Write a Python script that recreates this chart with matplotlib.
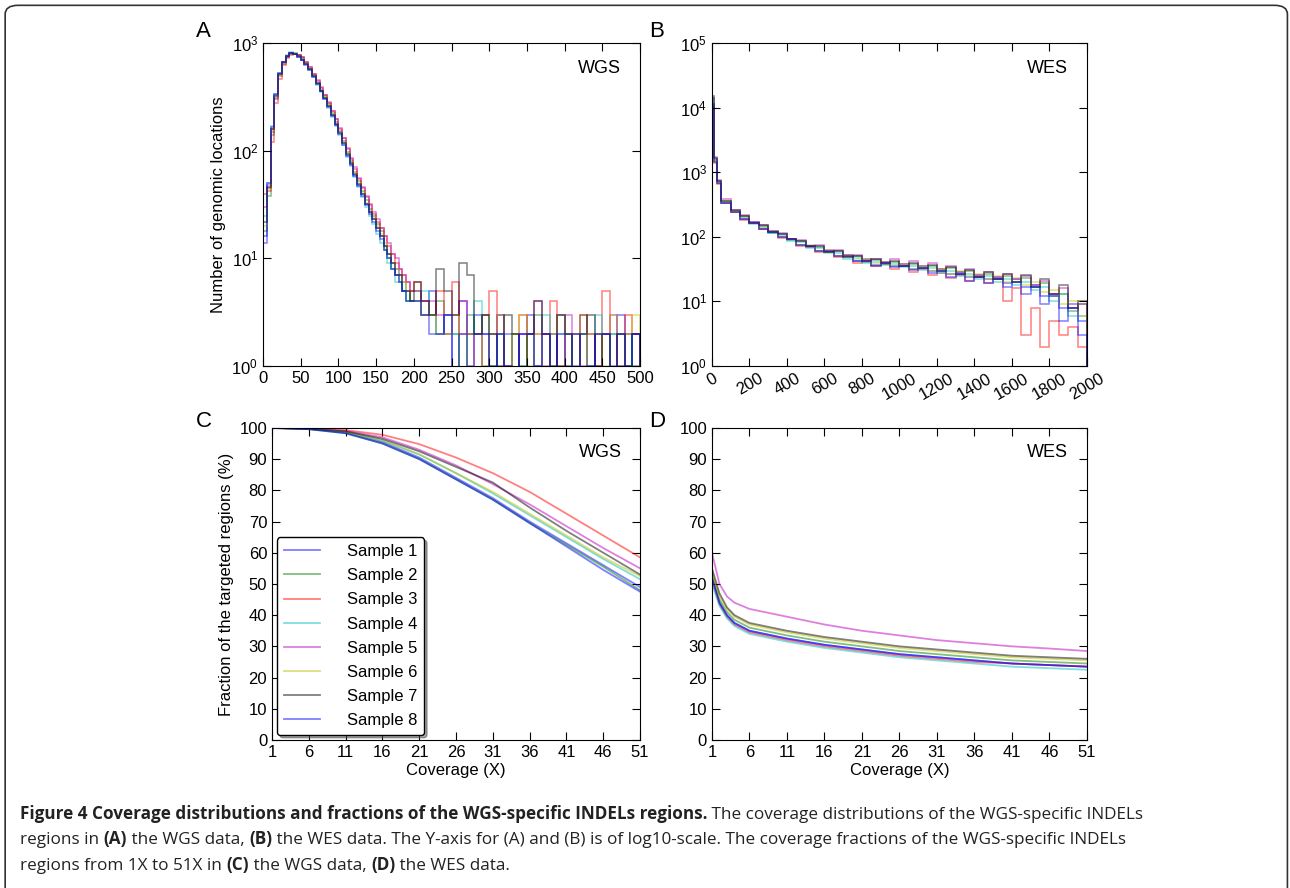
import numpy as np
import matplotlib
matplotlib.use("Agg")
import matplotlib.pyplot as plt
from matplotlib.patches import FancyBboxPatch

plt.rcParams['font.family'] = ['Liberation Sans', 'DejaVu Sans']
plt.rcParams['font.size'] = 12

samples = ["Sample %d" % i for i in range(1, 9)]
colors = ['b', 'g', 'r', 'c', 'm', 'y', 'k', 'b']

# A: WGS coverage histogram (bins of 5 up to 200, then bins of 10 up to 500)
edges_a = list(range(0, 200, 5)) + list(range(200, 501, 10))
a_body = [
    [14,45,160,330,520,660,760,810,790,750,700,640,570,490,420,360,310,260,215,175,148,118,92,76,60,48,40,32,27,23,19,16,13,11,9,8,7,5,5,4],
    [18,38,140,300,490,640,750,800,810,770,720,650,580,500,430,370,320,270,225,185,152,122,97,80,64,52,42,35,29,25,21,18,12,10,8,7,6,6,4,5],
    [40,42,120,280,460,620,730,780,790,780,740,670,600,520,450,390,330,280,235,195,160,130,104,84,68,55,45,37,31,26,22,19,16,13,11,9,8,7,6,5],
    [25,50,170,340,530,670,770,820,800,760,710,640,560,480,410,350,300,250,205,168,140,112,88,72,57,46,37,30,25,21,17,14,12,9,8,6,6,5,4,4],
    [30,48,150,310,500,650,740,790,800,780,735,665,595,515,445,385,330,282,235,195,162,132,106,86,70,56,46,38,32,27,23,19,16,14,11,10,8,7,6,5],
    [20,44,155,320,510,655,755,800,795,755,705,645,575,495,425,365,315,265,218,178,150,120,95,78,62,50,41,33,28,24,20,17,14,11,9,8,7,6,5,4],
    [22,46,158,325,515,660,760,805,790,752,700,640,570,492,422,362,312,262,216,176,146,118,93,77,61,49,40,32,27,23,19,16,13,11,9,7,7,5,5,4],
    [16,50,165,335,525,665,765,810,785,748,695,632,562,485,415,355,305,255,210,172,143,114,90,74,58,47,38,31,26,22,18,15,12,10,8,7,6,5,4,4],
]
a_tail = [
    [4,3,5,2,3,0,4,2,3,2,1,3,2,0,2,3,1,2,0,3,2,1,2,0,2,2,1,3,0,2],
    [5,3,3,4,2,2,0,3,2,3,1,2,0,2,1,2,3,0,2,1,0,2,3,1,2,0,2,1,2,1],
    [6,4,3,5,3,6,2,2,0,3,5,2,1,2,3,0,2,2,4,1,2,0,3,2,1,5,0,2,3,2],
    [4,5,3,2,3,2,0,2,4,1,2,2,0,2,1,2,0,3,1,2,2,0,2,1,3,0,2,2,1,2],
    [5,4,4,3,2,3,4,2,2,0,2,3,1,0,2,2,4,1,2,0,3,2,1,2,0,2,3,1,2,2],
    [4,3,3,2,2,3,0,2,2,1,2,3,0,2,3,1,2,0,2,3,1,2,0,2,2,1,3,0,2,3],
    [6,4,3,8,5,3,9,7,2,3,2,1,3,2,0,2,4,2,1,3,2,0,2,3,1,2,0,2,1,2],
    [4,3,2,2,3,0,2,1,2,2,0,2,1,0,2,2,1,2,0,2,1,2,0,1,2,2,0,2,1,2],
]

# B: WES coverage histogram
edges_b = [0, 10, 25, 50] + list(range(100, 2001, 50))
b_head = [
    [14000,1600,720,340], [11000,1500,690,360], [9000,1400,650,330], [12000,1550,700,345],
    [10000,1700,760,380], [13000,1500,700,350], [15000,1650,740,365], [11500,1450,680,335],
]
b_body = [
    [245,190,168,132,122,98,94,74,73,60,61,50,52,43,45,37,41,35,38,32,35,30,32,27,29,24,26,22,24,19,22,17,18,12,13,8,9,5],
    [255,210,162,148,116,112,88,86,70,70,58,60,48,50,41,44,38,41,36,38,33,36,30,33,27,30,24,27,22,25,20,23,17,19,12,13,7,9],
    [240,185,163,130,120,95,92,72,70,58,58,48,50,40,42,35,38,32,35,29,32,26,28,23,26,21,24,19,22,10,16,3,8,2,5,3,4,2],
    [250,200,160,142,115,107,87,82,68,67,56,57,46,47,40,41,37,38,34,35,31,33,28,30,25,27,22,25,20,22,18,20,15,17,10,13,6,6],
    [265,215,170,155,122,116,94,90,73,74,62,63,52,53,44,46,41,45,38,42,36,39,32,36,29,32,26,29,24,27,22,25,18,21,13,16,8,9],
    [248,195,165,135,121,100,94,76,74,61,62,51,53,44,45,38,41,35,38,32,35,30,32,27,30,25,27,22,25,20,23,18,20,14,15,9,10,6],
    [258,210,166,150,120,112,91,86,72,71,59,60,49,51,42,45,39,43,36,40,33,37,30,34,27,31,24,29,22,27,20,26,17,22,13,18,8,10],
    [242,190,163,132,119,98,92,74,72,60,60,50,51,42,43,36,39,34,36,31,33,28,30,24,27,21,24,19,22,17,20,13,17,9,12,5,8,3],
]

# C: WGS coverage fraction
cov_c = [1, 6, 11, 16, 21, 26, 31, 36, 41, 46, 51]
frac_c = [
    [100,99.7,98.5,95.5,90.5,84,77.5,70,63,56,49],
    [100,99.6,98.3,95,90,83.5,77,69.5,62.5,55.5,48],
    [100,99.9,99.3,97.8,94.8,90.5,85.5,79.5,72.5,65.5,58.5],
    [100,99.7,98.7,96,91.5,85.5,79,72,65,58,51.5],
    [100,99.8,99,97,93,88,82,75.5,68.5,61.5,55],
    [100,99.7,98.7,96,91.5,85.5,79.5,72.5,65.5,58.5,52.5],
    [100,99.7,98.9,96.5,92.5,87.5,82.5,74.5,67,60,53],
    [100,99.6,98.3,95,90,83.5,77,69.5,62,54.5,47.5],
]

# D: WES coverage fraction
cov_d = [1, 2, 3, 4, 6, 11, 16, 21, 26, 31, 36, 41, 46, 51]
frac_d = [
    [52,44,40,37.5,35,32.5,30.5,29,27.5,26.5,25.5,24.5,24,23.5],
    [53,45,41,38.5,36,33.5,31.5,30,28.5,27.5,26.5,25.5,25,24.5],
    [51,43.5,39.5,37,34.5,32,30,28.5,27,26,25,24.5,24,23.5],
    [50,43,39,36.5,34,31.5,29.5,28,26.5,25.5,24.5,23.5,23,22.5],
    [60,50,46,44,42,39.5,37,35,33.5,32,31,30,29.3,28.5],
    [54,46,42,39.5,37,34.5,32.5,31,29.5,28.5,27.5,26.5,26,25.5],
    [55,47,42.5,40,37.5,35,33,31.5,30,29,28,27,26.5,26],
    [52,44,40,37.5,35,32.5,30.5,29,27.5,26.5,25.5,24.5,24,23.5],
]

fig = plt.figure(figsize=(12.9, 8.88), dpi=100)
fig.patches.append(FancyBboxPatch((0.004, -0.05), 0.994, 1.044, boxstyle="round,pad=0,rounding_size=0.01",
                                  transform=fig.transFigure, fill=False, lw=1.2, ec='#333333'))


def style(ax):
    ax.tick_params(direction='in', top=True, right=True, length=6, labelsize=12)
    ax.tick_params(which='minor', direction='in', top=True, right=True, length=0)


ax_a = fig.add_axes([0.2039, 0.5878, 0.2922, 0.3637])
for i in range(8):
    vals = np.array(a_body[i] + a_tail[i], dtype=float)
    vals = np.where(vals > 0, vals, 0.1)
    ax_a.stairs(vals, edges_a, color=colors[i], alpha=0.5, lw=1.1)
ax_a.set_yscale('log')
ax_a.set_xlim(0, 500)
ax_a.set_ylim(1, 1000)
ax_a.set_xticks(range(0, 501, 50))
ax_a.set_ylabel("Number of genomic locations", fontsize=12)
ax_a.text(0.95, 0.92, "WGS", transform=ax_a.transAxes, ha='right', va='center', fontsize=13)
style(ax_a)

ax_b = fig.add_axes([0.5519, 0.5878, 0.2907, 0.3637])
for i in range(8):
    vals = np.array(b_head[i] + b_body[i], dtype=float)
    ax_b.stairs(vals, edges_b, color=colors[i], alpha=0.5, lw=1.1)
ax_b.set_yscale('log')
ax_b.set_xlim(0, 2000)
ax_b.set_ylim(1, 1e5)
ax_b.set_xticks(range(0, 2001, 200))
ax_b.set_xticklabels([str(v) for v in range(0, 2001, 200)], rotation=30, ha='center')
ax_b.text(0.95, 0.92, "WES", transform=ax_b.transAxes, ha='right', va='center', fontsize=13)
style(ax_b)

ax_c = fig.add_axes([0.2109, 0.1667, 0.2853, 0.3514])
for i in range(8):
    ax_c.plot(cov_c, frac_c[i], color=colors[i], alpha=0.5, lw=1.3, label=samples[i])
ax_c.set_xlim(1, 51)
ax_c.set_ylim(0, 100)
ax_c.set_xticks(cov_c)
ax_c.set_yticks(range(0, 101, 10))
ax_c.set_xlabel("Coverage (X)", fontsize=12, labelpad=2)
ax_c.set_ylabel("Fraction of the targeted regions (%)", fontsize=12)
ax_c.text(0.95, 0.92, "WGS", transform=ax_c.transAxes, ha='right', va='center', fontsize=13)
leg = ax_c.legend(loc='lower left', fontsize=12, shadow=True, fancybox=True, framealpha=1,
                  edgecolor='black', handlelength=2.2, handletextpad=1.6, labelspacing=0.55,
                  borderaxespad=0.3)
style(ax_c)

ax_d = fig.add_axes([0.5519, 0.1667, 0.2907, 0.3514])
for i in range(8):
    ax_d.plot(cov_d, frac_d[i], color=colors[i], alpha=0.5, lw=1.3)
ax_d.set_xlim(1, 51)
ax_d.set_ylim(0, 100)
ax_d.set_xticks(cov_c)
ax_d.set_yticks(range(0, 101, 10))
ax_d.set_xlabel("Coverage (X)", fontsize=12, labelpad=2)
ax_d.text(0.95, 0.92, "WES", transform=ax_d.transAxes, ha='right', va='center', fontsize=13)
style(ax_d)

for label, x, y in [("A", 0.152, 0.965), ("B", 0.503, 0.965), ("C", 0.152, 0.525), ("D", 0.503, 0.525)]:
    fig.text(x, y, label, fontsize=16, va='center')

# caption with mixed bold/normal runs
caption = [
    [("Figure 4 Coverage distributions and fractions of the WGS-specific INDELs regions.", 'bold'),
     (" The coverage distributions of the WGS-specific INDELs", 'normal')],
    [("regions in ", 'normal'), ("(A)", 'bold'), (" the WGS data, ", 'normal'), ("(B)", 'bold'),
     (" the WES data. The Y-axis for (A) and (B) is of log10-scale. The coverage fractions of the WGS-specific INDELs", 'normal')],
    [("regions from 1X to 51X in ", 'normal'), ("(C)", 'bold'), (" the WGS data, ", 'normal'), ("(D)", 'bold'),
     (" the WES data.", 'normal')],
]
renderer = fig.canvas.get_renderer()
ys = [0.078, 0.049, 0.020]
for row, y in zip(caption, ys):
    x = 0.0155
    for txt, w in row:
        t = fig.text(x, y, txt, fontsize=12.3, fontweight=w, family=['Open Sans', 'DejaVu Sans'],
                     va='baseline', color='#222222')
        bb = t.get_window_extent(renderer)
        x += bb.width / fig.bbox.width

fig.savefig("out.png", dpi=100)
